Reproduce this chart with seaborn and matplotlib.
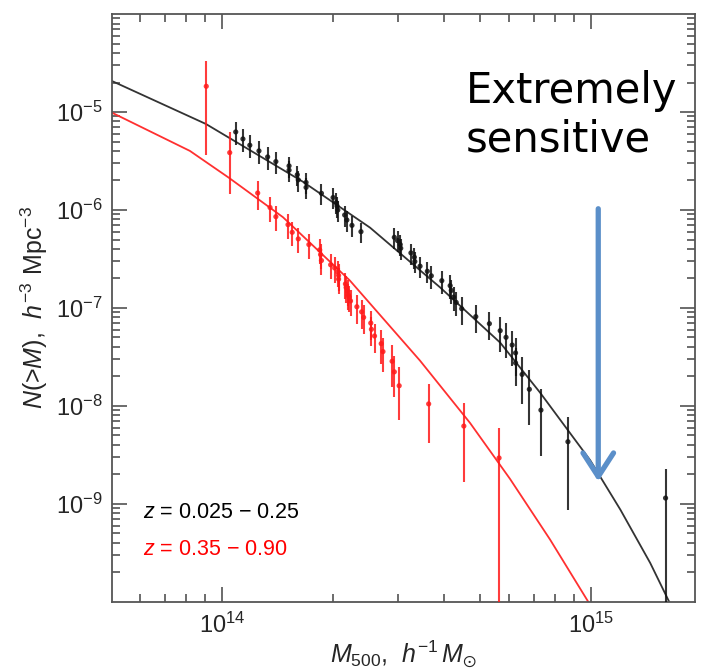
import numpy as np
import pandas as pd
import seaborn as sns
import matplotlib
matplotlib.use("Agg")
import matplotlib.pyplot as plt
from matplotlib import font_manager as fm
from matplotlib.ticker import FixedLocator, LogLocator, NullFormatter

# ---------------- data ----------------
black_mass = [1.09e14, 1.14e14, 1.19e14, 1.26e14, 1.33e14, 1.40e14, 1.52e14, 1.52e14, 1.60e14, 1.61e14,
              1.69e14, 1.69e14, 1.86e14, 2.00e14, 2.04e14, 2.05e14, 2.06e14, 2.15e14, 2.18e14, 2.25e14,
              2.38e14, 2.93e14, 2.99e14, 3.04e14, 3.05e14, 3.25e14, 3.32e14, 3.33e14, 3.44e14, 3.60e14,
              3.69e14, 3.94e14, 4.15e14, 4.18e14, 4.24e14, 4.31e14, 4.46e14, 4.87e14, 5.30e14, 5.67e14,
              5.88e14, 6.11e14, 6.24e14, 6.24e14, 6.50e14, 6.80e14, 7.31e14, 8.65e14, 1.59e15]
black_n = [6.26e-6, 5.31e-6, 4.58e-6, 4.01e-6, 3.48e-6, 3.12e-6, 2.82e-6, 2.55e-6, 2.29e-6, 2.03e-6,
           1.91e-6, 1.70e-6, 1.48e-6, 1.34e-6, 1.19e-6, 1.10e-6, 1.00e-6, 8.89e-7, 7.91e-7, 6.97e-7,
           6.01e-7, 5.26e-7, 4.87e-7, 4.44e-7, 4.07e-7, 3.65e-7, 3.30e-7, 2.98e-7, 2.67e-7, 2.37e-7,
           2.13e-7, 1.90e-7, 1.69e-7, 1.51e-7, 1.29e-7, 1.14e-7, 9.84e-8, 8.16e-8, 6.92e-8, 5.87e-8,
           5.02e-8, 4.19e-8, 3.48e-8, 2.75e-8, 2.10e-8, 1.48e-8, 9.08e-9, 4.32e-9, 1.15e-9]
black_relerr = [0.26, 0.26, 0.26, 0.26, 0.26, 0.26, 0.24, 0.24, 0.24, 0.24,
                0.24, 0.24, 0.24, 0.24, 0.24, 0.24, 0.24, 0.24, 0.24, 0.24,
                0.24, 0.24, 0.24, 0.24, 0.24, 0.24, 0.24, 0.24, 0.24, 0.24,
                0.27, 0.27, 0.27, 0.27, 0.27, 0.27, 0.32, 0.32, 0.32, 0.39,
                0.39, 0.39, 0.42, 0.42, 0.50, 0.57, 0.66, 0.80, 1.00]

red_mass = [9.07e13, 1.05e14, 1.25e14, 1.35e14, 1.40e14, 1.51e14, 1.55e14, 1.61e14, 1.72e14, 1.84e14,
            1.85e14, 1.86e14, 1.97e14, 2.02e14, 2.06e14, 2.07e14, 2.07e14, 2.16e14, 2.17e14, 2.19e14,
            2.20e14, 2.21e14, 2.23e14, 2.32e14, 2.39e14, 2.42e14, 2.53e14, 2.54e14, 2.59e14, 2.70e14,
            2.73e14, 2.89e14, 2.93e14, 3.02e14, 3.63e14, 4.52e14, 5.63e14]
red_n = [1.83e-5, 3.85e-6, 1.49e-6, 1.06e-6, 8.55e-7, 7.09e-7, 5.92e-7, 5.07e-7, 4.44e-7, 3.92e-7,
         3.51e-7, 3.05e-7, 2.76e-7, 2.56e-7, 2.33e-7, 2.15e-7, 1.97e-7, 1.76e-7, 1.62e-7, 1.49e-7,
         1.36e-7, 1.30e-7, 1.18e-7, 1.03e-7, 9.13e-8, 8.02e-8, 7.02e-8, 6.06e-8, 5.18e-8, 4.33e-8,
         3.59e-8, 2.86e-8, 2.23e-8, 1.61e-8, 1.05e-8, 6.24e-9, 2.95e-9]
red_relerr = [0.80, 0.62, 0.33, 0.28, 0.28, 0.28, 0.28, 0.28, 0.28, 0.28,
              0.28, 0.28, 0.28, 0.30, 0.30, 0.30, 0.30, 0.30, 0.30, 0.30,
              0.30, 0.30, 0.30, 0.33, 0.33, 0.33, 0.33, 0.33, 0.33, 0.38,
              0.38, 0.45, 0.45, 0.55, 0.60, 0.73, 1.00]

model_black_mass = [5.04e13, 9.05e13, 1.658e14, 2.518e14, 3.90e14, 5.67e14, 7.27e14,
                    9.94e14, 1.20e15, 1.445e15, 1.617e15, 1.689e15]
model_black_n = [2.07e-5, 7.55e-6, 1.94e-6, 6.61e-7, 1.62e-7, 4.43e-8, 1.37e-8,
                 2.79e-9, 8.73e-10, 2.50e-10, 1.05e-10, 7.55e-11]
model_red_mass = [5.04e13, 8.19e13, 1.045e14, 1.463e14, 2.22e14, 3.44e14, 4.70e14,
                  6.03e14, 7.74e14, 9.81e14, 1.025e15]
model_red_n = [9.84e-6, 4.01e-6, 2.13e-6, 8.45e-7, 1.91e-7, 2.90e-8, 6.70e-9,
               1.80e-9, 4.33e-10, 1.01e-10, 7.64e-11]

x_tick_values = [1e14, 1e15]
x_tick_labels = [r"$10^{14}$", r"$10^{15}$"]
y_tick_values = [1e-9, 1e-8, 1e-7, 1e-6, 1e-5]
y_tick_labels = [r"$10^{-9}$", r"$10^{-8}$", r"$10^{-7}$", r"$10^{-6}$", r"$10^{-5}$"]

label_black = r"$\mathit{z}$ = 0.025 − 0.25"
label_red = r"$\mathit{z}$ = 0.35 − 0.90"
annotation_lines = ["Extremely", "sensitive"]

# ---------------- style ----------------
sns.set_style("ticks")
names = {f.name for f in fm.fontManager.ttflist}
base_font = "Liberation Sans" if "Liberation Sans" in names else "DejaVu Sans"
narrow_font = "Liberation Sans Narrow" if "Liberation Sans Narrow" in names else base_font
plt.rcParams.update({
    "font.family": [base_font, "DejaVu Sans"],
    "mathtext.fontset": "custom",
    "mathtext.rm": base_font,
    "mathtext.it": base_font + ":italic",
    "mathtext.default": "regular",
})

BLACK = "#111111"
RED = "#ff1a1a"

fig = plt.figure(figsize=(7.01, 6.70), dpi=100)
ax = fig.add_axes([0.1598, 0.1015, 0.8316, 0.8776])
ax.set_xscale("log")
ax.set_yscale("log")

# model curves
sns.lineplot(x=model_black_mass, y=model_black_n, ax=ax, color="#333333", lw=1.3,
             sort=False, estimator=None)
sns.lineplot(x=model_red_mass, y=model_red_n, ax=ax, color="#ff3030", lw=1.3,
             sort=False, estimator=None)

# data points with error bars
def draw_points(mass, n, rel, color, alpha):
    n = np.asarray(n)
    rel = np.asarray(rel)
    hi = n * rel
    lo = n * np.minimum(rel, 0.99)
    ax.errorbar(mass, n, yerr=[lo, hi], fmt="none", ecolor=color, elinewidth=1.5,
                alpha=alpha, capsize=0, zorder=3)
    sns.scatterplot(x=mass, y=n, ax=ax, color=color, s=14, edgecolor="none",
                    linewidth=0, zorder=4, alpha=alpha)

draw_points(black_mass, black_n, black_relerr, BLACK, 0.85)
draw_points(red_mass, red_n, red_relerr, RED, 0.85)

ax.set_xlim(5.04e13, 1.91e15)
ax.set_ylim(1e-10, 1e-4)

ax.xaxis.set_major_locator(FixedLocator(x_tick_values))
ax.set_xticklabels(x_tick_labels, fontsize=17, fontfamily=base_font)
ax.yaxis.set_major_locator(FixedLocator(y_tick_values))
ax.set_yticklabels(y_tick_labels, fontsize=17, fontfamily=narrow_font)
ax.xaxis.set_minor_locator(LogLocator(base=10, subs=np.arange(2, 10), numticks=20))
ax.yaxis.set_minor_locator(LogLocator(base=10, subs=np.arange(2, 10), numticks=20))
ax.xaxis.set_minor_formatter(NullFormatter())
ax.yaxis.set_minor_formatter(NullFormatter())

ax.tick_params(which="both", direction="in", top=True, right=True, color="#444444", width=1.1)
ax.tick_params(which="major", length=11)
ax.tick_params(axis="x", which="major", pad=8)
ax.tick_params(axis="y", which="major", pad=7)
ax.tick_params(which="minor", length=5.5)
for s in ax.spines.values():
    s.set_color("#555555")
    s.set_linewidth(1.3)

ax.set_xlabel(r"$\mathit{M}_{500}$,  $\mathit{h}^{-1}\,\mathit{M}_{\odot}$", fontsize=18, labelpad=0)
ax.set_ylabel(r"$\mathit{N}$(>$\mathit{M}$),  $\mathit{h}^{-3}$ Mpc$^{-3}$", fontsize=18, labelpad=4)

ax.text(0.053, 0.153, label_black, transform=ax.transAxes, fontsize=15.5, color="black", va="center")
ax.text(0.053, 0.090, label_red, transform=ax.transAxes, fontsize=15.5, color="#ff0000", va="center")

# overlay annotation
fig.text(466 / 701, 1 - 103 / 670, annotation_lines[0], fontsize=30, fontfamily="DejaVu Sans",
         va="baseline", ha="left", color="black")
fig.text(466 / 701, 1 - 152 / 670, annotation_lines[1], fontsize=30, fontfamily="DejaVu Sans",
         va="baseline", ha="left", color="black")
ax.annotate("", xy=(1.045e15, 1.7e-9), xytext=(1.045e15, 1.03e-6),
            arrowprops=dict(arrowstyle="->,head_length=0.85,head_width=0.55", color="#5b8fc9",
                            lw=3.8, mutation_scale=20, shrinkA=0, shrinkB=0))

fig.savefig("out.png", dpi=100)
